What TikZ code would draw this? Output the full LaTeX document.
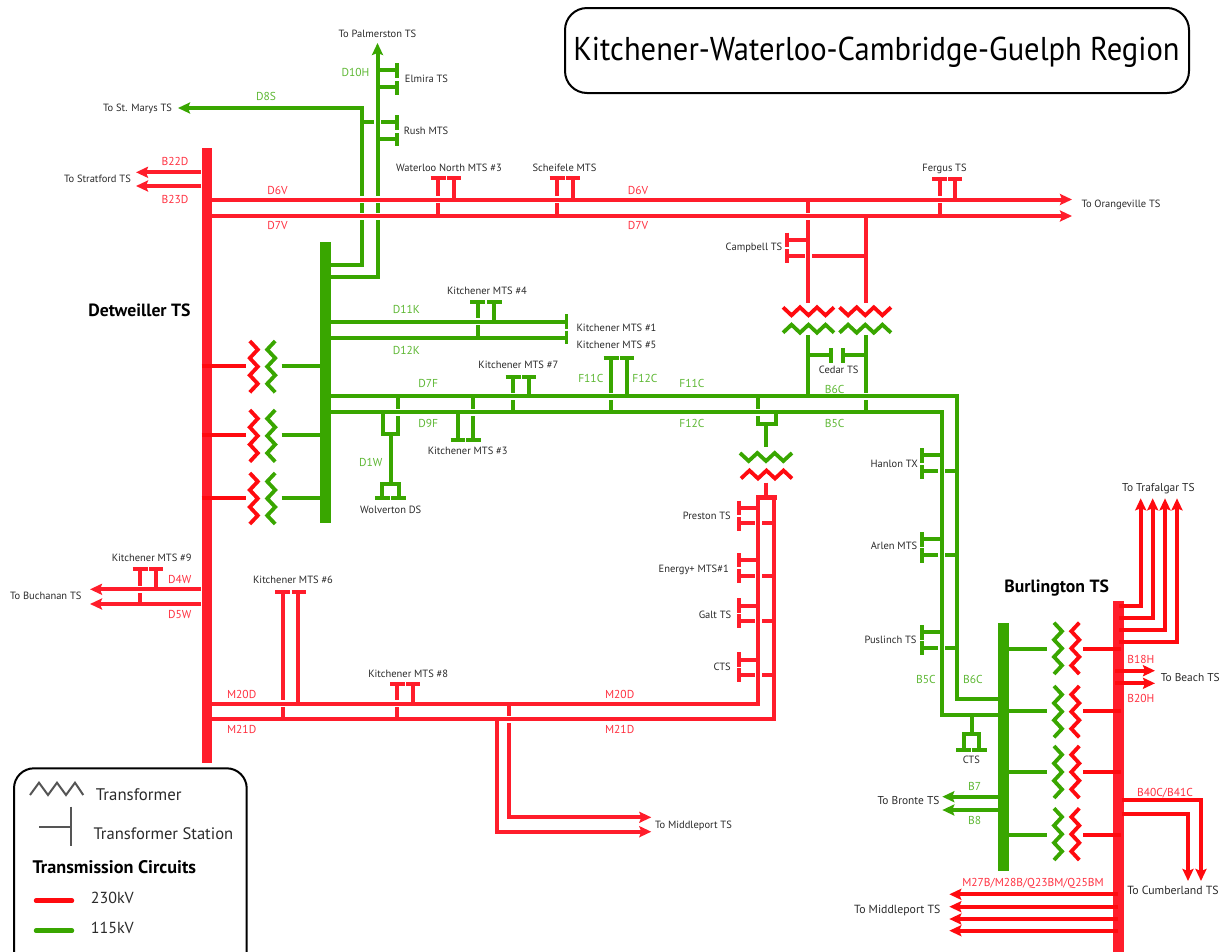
\documentclass[tikz,border=0pt]{standalone}
\usepackage{fontspec}
\setmainfont{PT Sans}
\usetikzlibrary{arrows.meta}
\definecolor{rl}{HTML}{FF1D2B}
\definecolor{rp}{HTML}{FF0A0F}
\definecolor{gl}{HTML}{39A600}
\definecolor{gt}{HTML}{5DB733}
\definecolor{rt}{HTML}{FF3040}
\definecolor{tx}{HTML}{2A2A2A}
\tikzset{
  x=1pt,y=-1pt,
  R/.style={draw=rl,line width=4pt},
  RP/.style={draw=rp,line width=4pt},
  G/.style={draw=gl,line width=4pt},
  arr/.style={-{Stealth[length=12pt,width=11pt,inset=2pt]}},
  busR/.style={fill=rl,inner sep=0pt,minimum width=10.5pt},
  busG/.style={fill=gl,inner sep=0pt,minimum width=10.5pt},
  lb/.style={text=tx,font=\fontsize{10.5}{12}\selectfont,inner sep=0pt,text height=7.4pt,text depth=0pt},
  lbb/.style={lb,font=\fontsize{11.4}{12}\selectfont},
  lr/.style={text=rt,font=\fontsize{11.5}{12}\selectfont,inner sep=0pt,text height=8pt,text depth=0pt},
  lg/.style={text=gt,font=\fontsize{11.5}{12}\selectfont,inner sep=0pt,text height=8pt,text depth=0pt},
  hd/.style={text=black,font=\bfseries\fontsize{17.7}{18}\selectfont,inner sep=0pt,text height=12pt,text depth=0pt},
  lgd/.style={text=tx,font=\fontsize{17}{20}\selectfont,inner sep=0pt,anchor=west},
}
% tee hanging on a vertical stem: style,name,x,ybar,yend,barleft,barright
\newcommand\teeV[7]{%
  \coordinate (#2a) at (#3,#4);\coordinate (#2b) at (#3,#5);
  \coordinate (#2l) at (#6,#4);\coordinate (#2r) at (#7,#4);
  \draw[#1] (#2a) -- (#2b);\draw[#1] (#2l) -- (#2r);}
% station on a horizontal stem: style,name,xline,y,xbar,ybar1,ybar2
\newcommand\teeH[7]{%
  \coordinate (#2a) at (#3,#4);\coordinate (#2b) at (#5,#4);
  \coordinate (#2l) at (#5,#6);\coordinate (#2r) at (#5,#7);
  \draw[#1] (#2a) -- (#2b);\draw[#1] (#2l) -- (#2r);}
% over-crossing, horizontal or vertical line on top
\newcommand\crossH[3]{\coordinate (cc) at (#2,#3);
  \draw[white,line width=7pt] (cc) ++(-3,0) -- ++(6,0);
  \draw[#1] (cc) ++(-4,0) -- ++(8,0);}
\newcommand\crossV[3]{\coordinate (cc) at (#2,#3);
  \draw[white,line width=7pt] (cc) ++(0,-3) -- ++(0,6);
  \draw[#1] (cc) ++(0,-4) -- ++(0,8);}
% zigzags: colour, first side, second side, start, end
\newcommand\zigV[5]{\draw[#1,line width=3.8pt,miter limit=4]
  (#2,#4) -- (#3,{#4+(#5-#4)/6}) -- (#2,{#4+(#5-#4)*2/6}) -- (#3,{#4+(#5-#4)*3/6})
  -- (#2,{#4+(#5-#4)*4/6}) -- (#3,{#4+(#5-#4)*5/6}) -- (#2,#5);}
\newcommand\zigH[5]{\draw[#1,line width=3.8pt,miter limit=4]
  (#4,#2) -- ({#4+(#5-#4)/6},#3) -- ({#4+(#5-#4)*2/6},#2) -- ({#4+(#5-#4)*3/6},#3)
  -- ({#4+(#5-#4)*4/6},#2) -- ({#4+(#5-#4)*5/6},#3) -- (#5,#2);}
\begin{document}
\begin{tikzpicture}
\useasboundingbox (0,0) rectangle (1226,951);
\clip (0,0) rectangle (1226,951);
% ---- buses
\node[busR,minimum height=615pt] (detR) at (207,455.5) {};
\node[busG,minimum height=281pt] (detG) at (325.5,382.5) {};
\node[busR,minimum height=351pt] (burR) at (1118.3,776) {};
\node[busG,minimum height=248pt] (burG) at (1003.5,747) {};
% ---- named points
\foreach \n/\x/\y in {
 pTop/377.5/43, pBot/377.5/277, pBus/331/277,
 sA/331/265, sB/362/265, sC/362/108, sD/178/108,
 e6a/212/199.5, e6b/1072/199.5, e7a/212/216, e7b/1072/216,
 b22a/201/172.3, b22b/136/172.3, b23a/201/186, b23b/136/186,
 ct1/808/199.5, ct2/808/302.7, ct3/865.7/216, ct4/865.7/302.7,
 cg1/808/335, cg2/808/396, cg3/865.7/335, cg4/865.7/412,
 k1a/331/321.7, k1b/566.7/321.7, k2a/331/338.3, k2b/566.7/338.3,
 f1a/331/396.3, f1b/957.3/396.3, f1c/957.3/699, f1d/998.3/699,
 f2a/331/412, f2b/941.7/412, f2c/941.7/715, f2d/998.3/715,
 tp1/757.7/396.3, tp2/757.7/424, tp3/775.7/412, tp4/775.7/424, tp5/766/424, tp6/766/447,
 pr1/766.3/482.7, pr2/766.3/497.3, pr3/758.3/497.3, pr4/774.3/497.3,
 m0a/212/703.7, m0b/758.3/703.7, m1a/212/719.3, m1b/774.3/719.3,
 mp1/508.7/703.7, mp2/508.7/817.3, mp3/651.3/817.3,
 mq1/496.7/719.3, mq2/496.7/831.7, mq3/651.3/831.7,
 w1a/201/589.3, w1b/90/589.3, w2a/201/604, w2b/90/604,
 wa/398.3/396.3, wb/398.3/434.3, wc/383/412, wd/383/434.3, we/390.7/434.3, wf/390.7/484.3,
 wg/382/484.3, wh/399/484.3, wi/382/497.7, wj/399/497.7,
 wk/375.3/497.7, wl/390/497.7, wm/391.3/497.7, wn/406/497.7,
 tr1a/1119/606, tr1b/1140.7/606, tr1c/1140.7/498.3,
 tr2a/1119/617.7, tr2b/1152.7/617.7, tr2c/1152.7/498.3,
 tr3a/1119/630, tr3b/1165/630, tr3c/1165/498.3,
 tr4a/1119/642.3, tr4b/1177/642.3, tr4c/1177/498.3,
 by1/1115/670.7, by2/1155/670.7, by3/1115/683.3, by4/1155/683.3,
 cu1/1121.7/800, cu2/1201/800, cu3/1201/881, cu4/1121.7/814, cu5/1188/814, cu6/1188/881,
 ml1/1118/894.3, ml2/949.3/894.3, ml3/1118/906.7, ml4/949.3/906.7,
 ml5/1118/919, ml6/949.3/919, ml7/1118/930.7, ml8/949.3/930.7,
 bz1/998.3/796.7, bz2/942.3/796.7, bz3/998.3/810, bz4/942.3/810,
 bc1/971.7/715, bc2/971.7/734.3, bc3/964/734.3, bc4/979.3/734.3, bc5/964/750, bc6/979.3/750,
 bc7/956/750, bc8/970.7/750, bc9/971.7/750, bc10/986.7/750,
 dl1/201.5/365.7, dl2/246/365.7, dl3/281.7/365.7, dl4/320/365.7,
 dl5/201.5/435, dl6/246/435, dl7/281.7/435, dl8/320/435,
 dl9/201.5/498, dl10/246/498, dl11/281.7/498, dl12/320/498,
 bl1/1008/648.7, bl2/1047.3/648.7, bl3/1083.3/648.7, bl4/1121/648.7,
 bl5/1008/711, bl6/1047.3/711, bl7/1083.3/711, bl8/1121/711,
 bl9/1008/772, bl10/1047.3/772, bl11/1083.3/772, bl12/1121/772,
 bl13/1008/834.7, bl14/1047.3/834.7, bl15/1083.3/834.7, bl16/1121/834.7}
 {\coordinate (\n) at (\x,\y);}
% ---- north green feeders
\draw[G,arr] (pBus) -- (pBot) -- (pTop);
\draw[G,arr] (sA) -- (sB) -- (sC) -- (sD);
\teeH{G}{el1}{377.5}{70}{397.3}{63}{78}
\teeH{G}{el2}{377.5}{87}{397.3}{81}{95}
\teeH{G}{ru1}{362}{122}{397.3}{115}{130}
\teeH{G}{ru2}{377.5}{139}{397.3}{133}{146}
\crossV{G}{377.5}{122}
% ---- D6V D7V and what hangs on them
\draw[R,arr] (e6a) -- (e6b);
\draw[R,arr] (e7a) -- (e7b);
\crossH{R}{362}{199.5}\crossH{R}{362}{216}\crossH{R}{377.5}{199.5}\crossH{R}{377.5}{216}
\draw[R,arr] (b22a) -- (b22b);
\draw[R,arr] (b23a) -- (b23b);
\teeV{R}{wn1}{438}{178}{216}{430.7}{445.7}
\teeV{R}{wn2}{453.7}{178}{199.5}{446.7}{461}
\teeV{R}{sc1}{557}{178}{216}{549.7}{564.7}
\teeV{R}{sc2}{572.7}{178}{199.5}{565.7}{580}
\teeV{R}{fe1}{939.7}{178.7}{216}{932.4}{947.4}
\teeV{R}{fe2}{955}{178.7}{199.5}{948}{962.3}
\crossH{R}{438}{199.5}\crossH{R}{557}{199.5}\crossH{R}{939.7}{199.5}
\draw[R] (ct1) -- (ct2);
\draw[R] (ct3) -- (ct4);
\crossH{R}{808}{216}
\teeH{R}{ca1}{808}{240}{787.3}{232.7}{247}
\teeH{R}{ca2}{865.7}{255.7}{787.3}{249}{263}
\crossV{R}{808}{255.7}
% ---- Cedar
\zigH{rp}{307.3}{315.3}{783}{834}
\zigH{rp}{307.3}{315.3}{839.5}{891}
\zigH{gl}{332.7}{324.7}{783}{834}
\zigH{gl}{332.7}{324.7}{839.5}{891}
\draw[G] (cg1) -- (cg2);
\draw[G] (cg3) -- (cg4);
\teeH{G}{ce1}{808}{355}{830.7}{348}{363}
\teeH{G}{ce2}{865.7}{355}{843}{348}{363}
% ---- green main lines
\draw[G,line join=miter] (f1a) -- (f1b) -- (f1c) -- (f1d);
\draw[G,line join=miter] (f2a) -- (f2b) -- (f2c) -- (f2d);
\crossH{G}{865.7}{396.3}
\draw[G] (k1a) -- (k1b);
\draw[G] (k2a) -- (k2b);
\draw[G,line width=3.5pt] (566.7,314) -- (566.7,329.3);
\draw[G,line width=3.5pt] (566.7,330.7) -- (566.7,344);
\teeV{G}{k41}{477.7}{301.7}{338.3}{470}{485.3}
\teeV{G}{k42}{494}{301.7}{321.7}{487.3}{502}
\crossH{G}{477.7}{321.7}
\teeV{G}{k71}{513}{376.7}{412}{505.7}{520.7}
\teeV{G}{k72}{528.7}{376.7}{396.3}{522}{536.3}
\crossH{G}{513}{396.3}
\teeV{G}{k51}{611}{358}{412}{603.7}{618.7}
\teeV{G}{k52}{627}{358}{396.3}{620}{634.3}
\crossH{G}{611}{396.3}
\teeV{G}{k31}{457.7}{440.3}{412}{450.7}{464.7}
\teeV{G}{k32}{473.3}{440.3}{396.3}{466}{481}
\crossH{G}{473.3}{412}
\draw[G] (wa) -- (wb);
\draw[G] (wc) -- (wd);
\draw[G,line cap=rect] (wd) -- (wb);
\draw[G] (we) -- (wf);
\draw[G,line cap=rect] (wg) -- (wh);
\draw[G] (wg) -- (wi);
\draw[G] (wh) -- (wj);
\draw[G] (wk) -- (wl);
\draw[G] (wm) -- (wn);
\crossH{G}{398.3}{412}
% ---- Preston loop
\draw[G] (tp1) -- (tp2);
\draw[G] (tp3) -- (tp4);
\draw[G,line cap=rect] (tp2) -- (tp4);
\draw[G] (tp5) -- (tp6);
\crossH{G}{757.7}{412}
\zigH{gl}{453}{461}{740}{792}
\zigH{rp}{478.5}{470.5}{741}{792}
\draw[R] (pr1) -- (pr2);
\draw[R,line width=5pt,line cap=rect] (pr3) -- (pr4);
\draw[R] (m0a) -- (m0b) -- (pr3);
\draw[R] (m1a) -- (m1b) -- (pr4);
\teeH{R}{pt1}{758.3}{507.7}{738.7}{500.7}{515}
\teeH{R}{pt2}{774.3}{523}{738.7}{517}{530.7}
\teeH{R}{en1}{758.3}{560.3}{738.7}{553}{567}
\teeH{R}{en2}{774.3}{576}{738.7}{569}{583}
\teeH{R}{ga1}{758.3}{605.7}{738.7}{598.3}{613}
\teeH{R}{ga2}{774.3}{621.3}{738.7}{614}{628}
\teeH{R}{ct11}{758.3}{659.7}{738.7}{652.3}{666.7}
\teeH{R}{ct12}{774.3}{675.3}{738.7}{668}{682}
\crossV{R}{758.3}{523}\crossV{R}{758.3}{576}\crossV{R}{758.3}{621.3}\crossV{R}{758.3}{675.3}
% ---- south west
\teeV{R}{k61}{282.7}{591.7}{719.3}{275}{290}
\teeV{R}{k62}{298.3}{591.7}{703.7}{291.7}{305.7}
\teeV{R}{k81}{397}{684}{719.3}{390}{404.7}
\teeV{R}{k82}{412.7}{684}{703.7}{406}{420.3}
\draw[R,arr] (mp1) -- (mp2) -- (mp3);
\draw[R,arr] (mq1) -- (mq2) -- (mq3);
\crossH{R}{282.7}{703.7}\crossH{R}{397}{703.7}\crossH{R}{508.7}{719.3}
\draw[R,arr] (w1a) -- (w1b);
\draw[R,arr] (w2a) -- (w2b);
\teeV{R}{k91}{140.3}{569.3}{604}{132.7}{148}
\teeV{R}{k92}{155.7}{569.3}{589.3}{149.3}{163.3}
\crossH{R}{140.3}{589.3}
% ---- B5C / B6C stations
\teeH{G}{ha1}{941.7}{455}{921.7}{448.3}{463.3}
\teeH{G}{ha2}{957.3}{471.3}{921.7}{465}{479}
\teeH{G}{ar1}{941.7}{539}{921.7}{532.3}{547}
\teeH{G}{ar2}{957.3}{555}{921.7}{548}{563}
\teeH{G}{pu1}{941.7}{631.7}{921.7}{625}{640}
\teeH{G}{pu2}{957.3}{647.7}{921.7}{640.7}{655}
\crossV{G}{941.7}{471.3}\crossV{G}{941.7}{555}\crossV{G}{941.7}{647.7}
% ---- Detweiller transformers
\foreach \a/\b/\c/\d/\yt/\yb in {dl1/dl2/dl3/dl4/341/392.3,dl5/dl6/dl7/dl8/410/461.7,dl9/dl10/dl11/dl12/473/524}{
 \draw[RP] (\a) -- (\b);
 \draw[G] (\c) -- (\d);
 \zigV{rp}{249.8}{257.8}{\yt}{\yb}
 \zigV{gl}{275.2}{267.2}{\yt}{\yb}
}
% ---- Burlington
\draw[RP,arr] (tr1a) -- (tr1b) -- (tr1c);
\draw[RP,arr] (tr2a) -- (tr2b) -- (tr2c);
\draw[RP,arr] (tr3a) -- (tr3b) -- (tr3c);
\draw[RP,arr] (tr4a) -- (tr4b) -- (tr4c);
\draw[RP,arr] (by1) -- (by2);
\draw[RP,arr] (by3) -- (by4);
\draw[RP,arr] (cu1) -- (cu2) -- (cu3);
\draw[RP,arr] (cu4) -- (cu5) -- (cu6);
\draw[RP,arr] (ml1) -- (ml2);
\draw[RP,arr] (ml3) -- (ml4);
\draw[RP,arr] (ml5) -- (ml6);
\draw[RP,arr] (ml7) -- (ml8);
\draw[G,arr] (bz1) -- (bz2);
\draw[G,arr] (bz3) -- (bz4);
\draw[G] (bc1) -- (bc2);
\draw[G,line cap=rect] (bc3) -- (bc4);
\draw[G] (bc3) -- (bc5);
\draw[G] (bc4) -- (bc6);
\draw[G] (bc7) -- (bc8);
\draw[G] (bc9) -- (bc10);
\foreach \a/\b/\c/\d/\yt/\yb in {bl1/bl2/bl3/bl4/622.7/674,bl5/bl6/bl7/bl8/686/737.3,bl9/bl10/bl11/bl12/746/798,bl13/bl14/bl15/bl16/808.3/860}{
 \draw[G] (\a) -- (\b);
 \draw[RP] (\c) -- (\d);
 \zigV{gl}{1054}{1062}{\yt}{\yb}
 \zigV{rp}{1079.3}{1071.3}{\yt}{\yb}
}
% ---- black labels
\node[lb] (n1) at (377.5,34) {To Palmerston TS};
\node[lb] (n2) at (426.5,79) {Elmira TS};
\node[lb] (n3) at (426,131) {Rush MTS};
\node[lb] (n4) at (137.5,108) {To St. Marys TS};
\node[lb] (n5) at (97.5,179) {To Stratford TS};
\node[lb] (n6) at (449,168) {Waterloo North MTS \#3};
\node[lb] (n7) at (564.5,168) {Scheifele MTS};
\node[lb] (n8) at (944.5,168) {Fergus TS};
\node[lb] (n9) at (1121,204) {To Orangeville TS};
\node[lb] (n10) at (754,246.7) {Campbell TS};
\node[lb] (n11) at (838.7,369.3) {Cedar TS};
\node[lb] (n12) at (894.2,463.3) {Hanlon TX};
\node[lb] (n13) at (894,546) {Arlen MTS};
\node[lb] (n14) at (890.5,639.3) {Puslinch TS};
\node[lbb] (n15) at (1158.4,487.3) {To Trafalgar TS};
\node[lbb] (n16) at (1190.2,677.3) {To Beach TS};
\node[lbb,font=\fontsize{11.8}{12}\selectfont] (n17) at (1173,891) {To Cumberland TS};
\node[lbb,font=\fontsize{11.8}{12}\selectfont] (n18) at (897.3,909.3) {To Middleport TS};
\node[lbb] (n19) at (908.5,801) {To Bronte TS};
\node[lb] (n20) at (971.3,760) {CTS};
\node[lb] (n21) at (706.8,516) {Preston TS};
\node[lb] (n22) at (693.7,568.3) {Energy+ MTS\#1};
\node[lb] (n23) at (715,614.7) {Galt TS};
\node[lb] (n24) at (722.2,666.3) {CTS};
\node[lb] (n25) at (487,290.7) {Kitchener MTS \#4};
\node[lb] (n26) at (616.5,328) {Kitchener MTS \#1};
\node[lb] (n27) at (616.5,345) {Kitchener MTS \#5};
\node[lb] (n28) at (518.3,365) {Kitchener MTS \#7};
\node[lb] (n29) at (467.7,451) {Kitchener MTS \#3};
\node[lb] (n30) at (390.7,509.3) {Wolverton DS};
\node[lb] (n31) at (151.7,557.3) {Kitchener MTS \#9};
\node[lb] (n32) at (45.8,595.3) {To Buchanan TS};
\node[lb] (n33) at (293,579.3) {Kitchener MTS \#6};
\node[lb] (n34) at (408.2,674) {Kitchener MTS \#8};
\node[lb] (n35) at (693.5,825) {To Middleport TS};
% ---- red labels
\node[lr] (r1) at (175,161.3) {B22D};
\node[lr] (r2) at (175,199.3) {B23D};
\node[lr] (r3) at (277.5,190) {D6V};
\node[lr] (r4) at (277.5,225) {D7V};
\node[lr] (r5) at (638,190) {D6V};
\node[lr] (r6) at (638,225) {D7V};
\node[lr] (r7) at (179.7,579) {D4W};
\node[lr] (r8) at (179.7,614.7) {D5W};
\node[lr] (r9) at (241.7,694.3) {M20D};
\node[lr] (r10) at (241.7,729.3) {M21D};
\node[lr] (r11) at (619.7,694.5) {M20D};
\node[lr] (r12) at (619.7,729.7) {M21D};
\node[lr] (r13) at (1140.8,659) {B18H};
\node[lr] (r14) at (1140.8,698.3) {B20H};
\node[lr] (r15) at (1165,792.3) {B40C/B41C};
\node[lr] (r16) at (1033,882.3) {M27B/M28B/Q23BM/Q25BM};
% ---- green labels
\node[lg] (g1) at (355.4,72) {D10H};
\node[lg] (g2) at (266,96) {D8S};
\node[lg] (g3) at (406.4,309.3) {D11K};
\node[lg] (g4) at (406.4,350.3) {D12K};
\node[lg] (g5) at (428.3,383.3) {D7F};
\node[lg] (g6) at (428.3,423.7) {D9F};
\node[lg] (g7) at (370.8,462) {D1W};
\node[lg] (g8) at (590.8,378) {F11C};
\node[lg] (g9) at (645,378) {F12C};
\node[lg] (g10) at (692,383.3) {F11C};
\node[lg] (g11) at (692,423.7) {F12C};
\node[lg] (g12) at (834.7,389) {B6C};
\node[lg] (g13) at (834.7,423) {B5C};
\node[lg] (g14) at (925.8,679.3) {B5C};
\node[lg] (g15) at (973,679.3) {B6C};
\node[lg] (g16) at (974.7,786) {B7};
\node[lg] (g17) at (974.7,820) {B8};
% ---- headings
\node[hd] (h1) at (139.5,310) {Detweiller TS};
\node[hd] (h2) at (1056.7,586.7) {Burlington TS};
\node[draw=black,line width=2pt,rounded corners=22pt,minimum width=624pt,minimum height=85pt,inner sep=0pt] (title) at (877,50.5) {};
\node[text=black,inner sep=0pt,font=\fontsize{33}{36}\selectfont] (titletext) at (876.5,52) {\scalebox{0.926}[1]{Kitchener-Waterloo-Cambridge-Guelph Region}};
% ---- legend
\draw[black,line width=2pt,rounded corners=20pt] (14,768.3) rectangle (246.7,990);
\draw[draw=tx!80,line width=2pt] (30,795) -- (39,782.7) -- (48,795) -- (57,782.7) -- (66,795) -- (75,782.7) -- (83.3,795);
\node[lgd,font=\fontsize{16.8}{20}\selectfont] (l1) at (95.7,795) {Transformer};
\draw[draw=tx!80,line width=2pt] (39.3,827.3) -- (71,827.3);
\draw[draw=tx!80,line width=2pt] (71,806.7) -- (71,846);
\node[lgd,font=\fontsize{16.6}{20}\selectfont] (l2) at (93.3,833.3) {Transformer Station};
\node[lgd,font=\bfseries\fontsize{18.2}{20}\selectfont,text=black] (l3) at (32.3,866.7) {Transmission Circuits};
\draw[draw=rp,line width=4.5pt,line cap=round] (36,900.7) -- (72,900.7);
\node[lgd,font=\fontsize{16}{20}\selectfont] (l4) at (90.7,897.7) {230kV};
\draw[draw=gl,line width=4.5pt,line cap=round] (36,930.7) -- (72,930.7);
\node[lgd,font=\fontsize{16}{20}\selectfont] (l5) at (90.7,927.7) {115kV};
\end{tikzpicture}
\end{document}
